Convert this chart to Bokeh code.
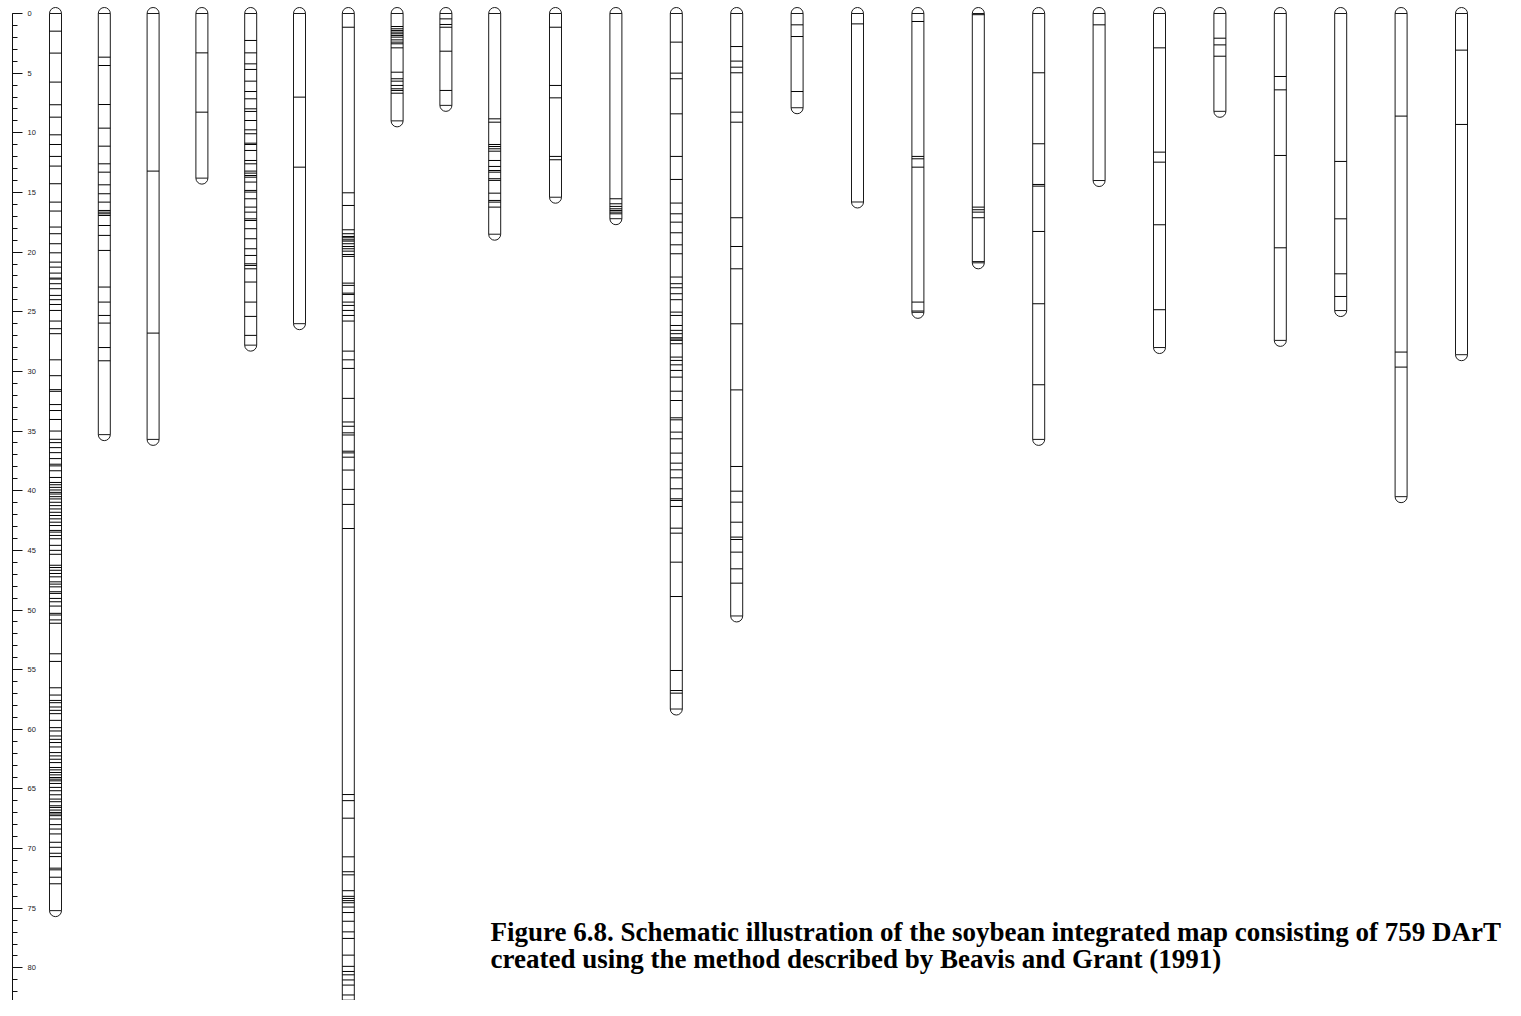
from bokeh.plotting import figure
from bokeh.models import Range1d, LinearAxis, SingleIntervalTicker, ColumnDataSource
from bokeh.embed import file_html
from bokeh.resources import INLINE
from bokeh.core.properties import value

# ---------------- data (cM positions of markers per linkage group) ----------------
m01 = [1.48, 3.32, 5.75, 7.65, 8.69, 10.17, 10.98, 11.98, 12.79, 14.27, 15.81, 16.56, 17.9, 18.46,
       19.3, 20.06, 20.84, 21.26, 21.76, 22.18, 22.26, 22.65, 23.07, 23.63, 23.99, 24.39, 24.89,
       25.78, 26.42, 26.84, 29.03, 30.36, 31.53, 31.67, 32.78, 33.28, 34.03, 35.0, 35.69, 35.97,
       36.39, 36.81, 37.31, 37.78, 37.92, 38.33, 38.89, 39.31, 39.5, 39.72, 39.94, 40.14, 40.28,
       40.5, 40.69, 40.97, 41.25, 41.53, 41.81, 42.08, 42.36, 42.64, 42.92, 43.33, 43.47, 43.75,
       44.03, 44.58, 45.0, 45.33, 46.25, 46.44, 46.67, 46.94, 47.22, 47.64, 47.83, 48.06, 48.47,
       48.61, 49.03, 49.31, 49.67, 50.28, 50.42, 50.83, 51.11, 53.67, 54.31, 56.52, 57.13, 57.58,
       57.77, 58.13, 58.41, 58.69, 59.25, 59.86, 60.14, 60.56, 60.84, 61.11, 61.48, 61.95, 62.23,
       62.51, 62.79, 63.2, 63.4, 63.62, 63.82, 64.04, 64.18, 64.32, 64.54, 64.87, 65.15, 65.49,
       65.85, 66.07, 66.41, 66.55, 66.77, 66.97, 67.1, 67.24, 67.52, 67.99, 68.36, 68.77, 69.47,
       69.89, 70.39, 70.67, 71.64, 71.78, 72.4, 72.95]
m02 = [3.66, 4.36, 7.63, 9.61, 11.12, 12.6, 13.3, 14.36, 15.11, 15.81, 16.51, 16.65, 16.79, 16.93,
       17.77, 18.6, 19.86, 22.93, 24.19, 25.31, 25.95, 28.0, 29.11]
m03 = [13.21, 26.79]
m04 = [3.3, 8.27]
m05 = [2.26, 3.3, 4.22, 4.69, 5.67, 6.54, 7.15, 7.99, 8.21, 8.97, 9.75, 10.08, 10.87, 10.98, 11.48,
       12.32, 12.6, 13.21, 13.38, 13.58, 13.72, 14.13, 14.83, 14.97, 15.53, 16.23, 16.65, 17.21,
       17.35, 18.04, 18.88, 19.72, 20.28, 20.98, 21.12, 21.4, 22.51, 24.19, 25.39, 26.98]
m06 = [7.01, 12.88]
m07 = [1.15, 15.03, 16.09, 18.13, 18.46, 18.69, 18.8, 18.97, 19.08, 19.3, 19.53, 19.72, 19.92, 20.2,
       20.36, 22.6, 22.79, 23.44, 23.55, 24.19, 24.47, 24.89, 25.31, 25.78, 28.3, 29.03, 29.75,
       32.26, 34.24, 34.6, 35.15, 35.33, 36.69, 36.83, 37.19, 38.27, 39.89, 41.15, 43.17, 65.47,
       65.98, 67.45, 70.69, 71.94, 72.2, 73.53, 74.0, 74.18, 74.36, 74.54, 74.9, 75.36, 76.09,
       76.98, 77.53, 78.93, 79.87, 80.3, 80.58, 81.01, 81.44, 82.27, 82.71]
m08 = [1.09, 1.28, 1.42, 1.56, 1.7, 1.84, 1.98, 2.21, 2.4, 2.54, 2.88, 4.92, 5.47, 5.67, 6.03, 6.31,
       6.45, 6.68]
m09 = [0.45, 0.92, 1.15, 3.16, 6.45]
m10 = [8.83, 9.11, 10.98, 11.15, 11.34, 11.54, 12.32, 12.82, 13.16, 13.3, 13.85, 13.99, 15.06,
       15.67, 15.81, 16.23]
m11 = [1.15, 6.03, 7.07, 11.98, 12.26]
m12 = [15.53, 15.95, 16.17, 16.37, 16.51, 16.65, 16.79]
m13 = [2.4, 5.0, 5.47, 8.41, 11.98, 13.91, 15.89, 16.79, 17.49, 18.38, 19.39, 20.14, 22.09, 22.65,
       22.99, 23.49, 23.99, 25.03, 25.31, 26.15, 26.56, 26.84, 27.18, 27.29, 27.4, 27.68, 28.8,
       29.08, 29.45, 29.92, 30.48, 31.66, 32.44, 33.89, 34.06, 35.09, 35.65, 36.85, 37.69, 38.25,
       38.92, 39.84, 40.68, 40.82, 41.32, 43.14, 43.56, 45.99, 48.87, 55.07, 56.75, 56.97]
m14 = [2.77, 3.99, 4.5, 4.97, 8.27, 9.11, 17.12, 19.53, 21.4, 26.01, 31.55, 37.97, 40.04, 40.96,
       42.64, 43.89, 44.09, 45.15, 46.55, 47.75]
m15 = [0.95, 1.93, 6.54]
m16 = [0.87]
m17 = [0.67, 11.98, 12.18, 12.88, 24.19, 24.94]
m18 = [0.1, 16.23, 16.45, 16.65, 17.12, 20.8]
m19 = [4.97, 10.92, 14.33, 14.47, 18.27, 24.33, 31.12]
m20 = [0.95]
m21 = [2.88, 11.62, 12.46, 17.71, 24.83]
m22 = [2.07, 2.63, 3.58]
m23 = [5.28, 6.4, 11.9, 19.64]
m24 = [12.4, 17.21, 21.82, 23.72]
m25 = [8.6, 28.38, 29.64]
m26 = [3.07, 9.3]
m27 = [3.07, 4.89, 6.26]

group_markers = [m01, m02, m03, m04, m05, m06, m07, m08, m09, m10, m11, m12, m13, m14,
                 m15, m16, m17, m18, m19, m20, m21, m22, m23, m24, m25, m26, m27]
group_length = [75.2, 35.3, 35.7, 13.8, 27.8, 26.0, 83.5, 9.0, 7.7, 18.5, 15.4, 17.2, 58.3, 50.5,
                7.9, 15.8, 25.05, 20.9, 35.7, 14.0, 28.0, 8.2, 27.4, 24.9, 40.5, 28.6, 8.9]

caption_lines = [
    "Figure 6.8. Schematic illustration of the soybean integrated map consisting of 759 DArT",
    "created using the method described by Beavis and Grant (1991)",
]

# ---------------- layout ----------------
W, H = 1505, 1000
PX_PER_CM = 11.93
TOP_PAD = 13.0
y_top = -TOP_PAD / PX_PER_CM
y_bot = y_top + H / PX_PER_CM

# column centres (screen-like x units): two spacing blocks as in the original
col_x = [55 + 48.8 * i for i in range(10)] + [555 + 60.4 * i for i in range(17)]
HALF = 6.0

p = figure(width=W, height=H, output_backend="svg", toolbar_location=None,
           x_range=Range1d(0, W), y_range=Range1d(y_bot, y_top),
           x_axis_location=None, y_axis_location=None,
           min_border=0, min_border_left=0, min_border_right=0,
           min_border_top=0, min_border_bottom=0)
p.outline_line_color = None
p.xgrid.visible = False
p.ygrid.visible = False
p.background_fill_color = "white"

# chromosome bodies
body = ColumnDataSource(dict(
    left=[x - HALF for x in col_x], right=[x + HALF for x in col_x],
    top=[0.0] * len(col_x), bottom=group_length))
p.quad(left="left", right="right", top="top", bottom="bottom", source=body,
       fill_color="white", line_color="#1a1a1a", line_width=1)

# markers
sx0, sx1, sy = [], [], []
for x, ms in zip(col_x, group_markers):
    for m in ms:
        sx0.append(x - HALF)
        sx1.append(x + HALF)
        sy.append(m)
p.segment(x0=sx0, y0=sy, x1=sx1, y1=sy, line_color="#000000", line_width=1)

# rounded caps
p.arc(x=col_x, y=[0.0] * len(col_x), radius=HALF, radius_units="screen",
      start_angle=0, end_angle=3.14159265, direction="anticlock",
      line_color="#1a1a1a", line_width=1)
p.arc(x=col_x, y=group_length, radius=HALF, radius_units="screen",
      start_angle=3.14159265, end_angle=2 * 3.14159265, direction="anticlock",
      line_color="#1a1a1a", line_width=1)

# cM ruler
ax = LinearAxis(fixed_location=12, bounds=(0, 84.2),
                ticker=SingleIntervalTicker(interval=5, num_minor_ticks=5))
ax.major_tick_in = 0
ax.major_tick_out = 10
ax.minor_tick_in = 0
ax.minor_tick_out = 5
ax.major_label_standoff = 5
ax.major_label_text_font = "Liberation Sans"
ax.major_label_text_font_size = "7.5px"
ax.major_label_text_color = "#222222"
ax.axis_line_color = "#111111"
ax.major_tick_line_color = "#111111"
ax.minor_tick_line_color = "#111111"
p.add_layout(ax, "right")

# caption
cap_y = [(931 - 13) / PX_PER_CM, (958 - 13) / PX_PER_CM]
p.text(x=[490, 490], y=cap_y, text=caption_lines,
       text_font=value("Liberation Serif"), text_font_style="bold",
       text_font_size="27px", text_baseline="alphabetic", text_align="left",
       text_color="black")

open("out.html", "w").write(file_html(p, INLINE))
